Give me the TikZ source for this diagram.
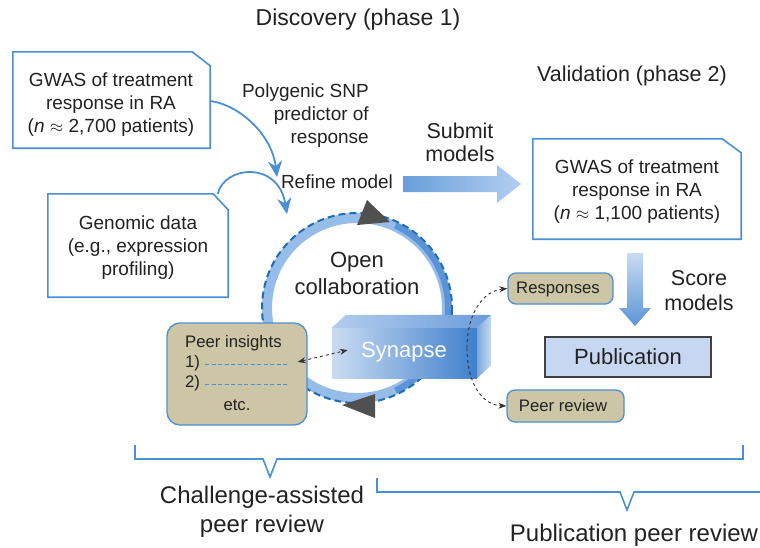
\documentclass[tikz,border=0pt]{standalone}
\usepackage{fontspec}
\setmainfont{Liberation Sans}
\usetikzlibrary{arrows.meta,calc}
\definecolor{bord}{HTML}{4A90D2}
\definecolor{tanfill}{HTML}{CDC6A6}
\definecolor{ringlight}{HTML}{96BDE8}
\definecolor{ringmid}{HTML}{5A94D6}
\definecolor{ringdark}{HTML}{1F6DB5}
\definecolor{pubfill}{HTML}{C7D7F1}
\definecolor{headgray}{HTML}{505050}
\definecolor{txtc}{HTML}{222222}
\definecolor{synL}{HTML}{CADCF2}
\definecolor{synR}{HTML}{3F7FCC}
\definecolor{synTL}{HTML}{B3CDEE}
\definecolor{synTR}{HTML}{6A9CDA}
\definecolor{synRL}{HTML}{7FA8DE}
\definecolor{synRR}{HTML}{C6DAF2}
\definecolor{arrL}{HTML}{6A9EDB}
\definecolor{arrR}{HTML}{B2CFF0}
\begin{document}
\begin{tikzpicture}[x=1pt,y=-1pt,
  txt/.style={font=\fontsize{19}{23}\selectfont, align=center, inner sep=0pt, text=txtc},
  big/.style={font=\fontsize{22}{26}\selectfont, align=center, inner sep=0pt, text=txtc},
  huge/.style={font=\fontsize{24}{29}\selectfont, align=center, inner sep=0pt, text=txtc},
  small/.style={font=\fontsize{16.7}{20}\selectfont, inner sep=0pt, text=txtc},
  shapebox/.style={draw=none, inner sep=0pt},
  callout/.style={draw=bord, line width=1.6pt, fill=white},
  tanbox/.style={draw=bord, line width=1.3pt, fill=tanfill, inner sep=0pt},
  curvearrow/.style={draw=bord, line width=1.8pt, -{Stealth[length=16pt,width=14pt]}},
  dasharrow/.style={dashed, line width=0.9pt, draw=black!80},
  bracket/.style={draw=bord, line width=1.6pt}
]
\useasboundingbox (0,0) rectangle (760,547);

% titles
\node[big, font=\fontsize{23}{27}\selectfont] (disc) at (358,20) {Discovery (phase 1)};
\node[big, font=\fontsize{21.5}{26}\selectfont] (valid) at (632,76) {Validation (phase 2)};

% GWAS box 1
\node[shapebox, minimum width=197pt, minimum height=96pt] (box1) at (111.5,100) {};
\draw[callout] (box1.south west) -- (box1.north west) -- ($(box1.north east)+(-18,0)$)
  -- ($(box1.north east)+(0,14)$) -- (box1.south east) -- cycle;
\node[txt] (box1t) at (111,105) {GWAS of treatment\\response in RA\\(\textit{n} $\approx$ 2,700 patients)};

% Genomic box
\node[shapebox, minimum width=180pt, minimum height=103pt] (box2) at (138,245.5) {};
\draw[callout] (box2.south west) -- (box2.north west) -- ($(box2.north east)+(-15,0)$)
  -- ($(box2.north east)+(0,16)$) -- (box2.south east) -- cycle;
\node[txt] (box2t) at (138,248) {Genomic data\\(e.g., expression\\profiling)};

% GWAS box 2
\node[shapebox, minimum width=208pt, minimum height=100pt] (box3) at (637,189) {};
\draw[callout] (box3.south west) -- (box3.north west) -- ($(box3.north east)+(-19,0)$)
  -- ($(box3.north east)+(0,14)$) -- (box3.south east) -- cycle;
\node[txt] (box3t) at (637,192) {GWAS of treatment\\response in RA\\(\textit{n} $\approx$ 1,100 patients)};

% labels
\node[txt, align=right, anchor=east] (snp) at (369,116) {Polygenic SNP\\predictor of\\response};
\node[txt] (refine) at (337,182) {Refine model};
\node[big, font=\fontsize{21.5}{23}\selectfont] (submit) at (460,142) {Submit\\models};
\node[big, font=\fontsize{21.5}{25}\selectfont] (score) at (699,291) {Score\\models};

% curved arrows
\coordinate (tip1) at (277,177);
\coordinate (tip2) at (287,214);
\draw[curvearrow] ($(box1.east)+(0,1)$) .. controls (240,105) and (272,135) .. (tip1);
\draw[curvearrow] ($(box2.north west)+(170,0)$) .. controls (224,166) and (278,160) .. (tip2);

% block arrows
\shade[left color=arrL, right color=arrR] (403,176) -- (497,176) -- (497,165) -- (521,184)
  -- (497,203) -- (497,192) -- (403,192) -- cycle;
\shade[top color=synL, bottom color=ringmid] (627,253) -- (643,253) -- (643,308) -- (651,308)
  -- (635,326) -- (619,308) -- (627,308) -- cycle;

% ring
\node[shapebox, circle, minimum size=180pt] (ring) at (357,308) {};
\draw[ringlight, line width=10pt] (ring.center) circle[radius=90];
\draw[ringmid, line width=6pt] ($(ring.center)+(-65:91)$) arc[start angle=-65, end angle=65, radius=91];
\draw[ringdark, line width=2pt, dash pattern=on 7pt off 4pt] (ring.center) circle[radius=95];
\node[big, font=\fontsize{22}{27}\selectfont] (open) at (357,273) {Open\\collaboration};
\fill[headgray] (367,200) -- (357,225) -- (390,222) -- cycle;
\fill[headgray] (342,405) -- (375,394) -- (375,418) -- cycle;

% peer insights box
\node[tanbox, rounded corners=13pt, minimum width=140pt, minimum height=102pt] (peer) at (237,374) {};
\node[small, anchor=west] (pi) at (185,343) {Peer insights};
\node[small, anchor=west] (p1) at (185,363) {1)};
\node[small, anchor=west] (p2) at (185,383) {2)};
\node[small] (etc) at (237,405) {etc.};
\coordinate (d1a) at (205,364); \coordinate (d1b) at (288,364);
\coordinate (d2a) at (205,384); \coordinate (d2b) at (288,384);
\draw[bord, line width=1pt, dash pattern=on 4pt off 2.5pt] (d1a) -- (d1b);
\draw[bord, line width=1pt, dash pattern=on 4pt off 2.5pt] (d2a) -- (d2b);

% Synapse prism
\node[shapebox, minimum width=145pt, minimum height=50pt, left color=synL, right color=synR] (syn) at (404.5,353) {};
\shade[left color=synTL, right color=synTR] (syn.north west) -- ($(syn.north west)+(14,-13)$)
  -- ($(syn.north east)+(14,-13)$) -- (syn.north east) -- cycle;
\shade[left color=synRL, right color=synRR] (syn.north east) -- ($(syn.north east)+(14,-13)$)
  -- ($(syn.south east)+(14,-13)$) -- (syn.south east) -- cycle;
\node[font=\fontsize{22}{26}\selectfont, text=white, inner sep=0pt] (synt) at (404,352) {Synapse};

% right boxes
\node[tanbox, rounded corners=8pt, minimum width=105pt, minimum height=31pt] (resp) at (560.5,288.5) {};
\node[small] (respt) at (558,289) {Responses};
\node[tanbox, rounded corners=8pt, minimum width=117pt, minimum height=32pt] (prev) at (565.5,406) {};
\node[small] (prevt) at (563,406) {Peer review};
\node[draw=black!75, line width=1.3pt, fill=pubfill, minimum width=166pt, minimum height=40pt,
  font=\fontsize{22}{26}\selectfont, text=txtc, inner sep=0pt] (pub) at (628,357) {Publication};

% dashed connectors
\draw[dasharrow, {Stealth[length=8pt,width=6pt]}-{Stealth[length=8pt,width=6pt]}]
  ($(peer.east)+(-10,-12)$) -- ($(syn.west)+(16,-3)$);
\coordinate (arcmid) at (467,348);
\draw[dasharrow, -{Stealth[length=8pt,width=6pt]}] (arcmid) .. controls (467,312) and (484,291) .. (resp.west);
\draw[dasharrow, -{Stealth[length=8pt,width=6pt]}] (arcmid) .. controls (467,385) and (483,405) .. (prev.west);

% brackets
\draw[bracket] (135,445) -- (135,459) -- (263,459) -- (270,477) -- (277,459) -- (743,459) -- (743,445);
\draw[bracket] (377,478) -- (377,492) -- (620,492) -- (627,510) -- (634,492) -- (762,492);
\node[huge] (cap) at (262,512) {Challenge-assisted\\peer review};
\node[huge] (ppr) at (634,535) {Publication peer review};
\end{tikzpicture}
\end{document}
